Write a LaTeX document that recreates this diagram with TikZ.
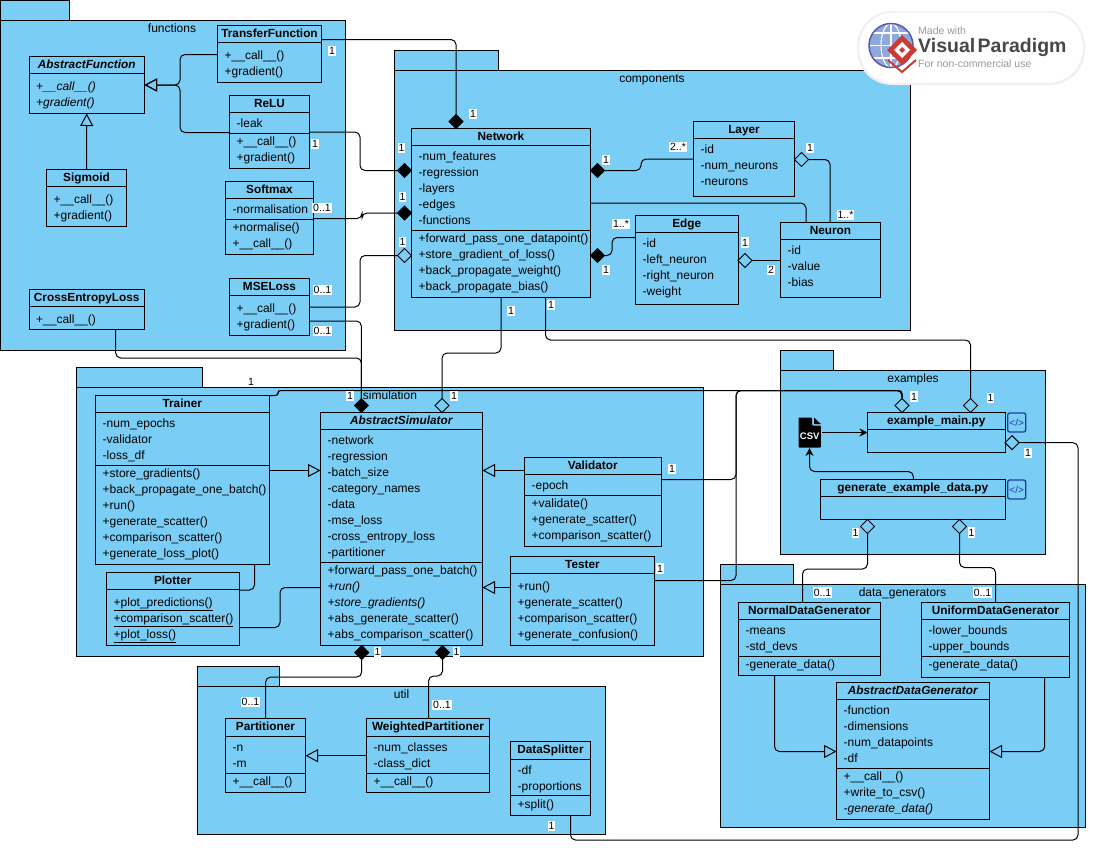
\documentclass[tikz,border=0pt]{standalone}
\usepackage{fontspec}
\setmainfont{Liberation Sans}
\usetikzlibrary{arrows.meta,shapes.geometric}

\definecolor{pkgblue}{HTML}{7ACDF5}
\definecolor{iconblue}{HTML}{1B3FA6}
\definecolor{vpred}{HTML}{CC3B33}
\tikzset{
  pkgbox/.style={draw=black,fill=pkgblue,line width=0.9pt,inner sep=0pt,outer sep=0pt},
  classbox/.style={draw=black,fill=pkgblue,line width=1pt,inner sep=0pt,outer sep=0pt},
  classtitle/.style={font=\fontsize{11.8}{12}\selectfont\bfseries,inner sep=0pt,text height=9pt,text depth=3pt},
  member/.style={font=\fontsize{12}{12}\selectfont,anchor=west,inner sep=0pt,text height=9pt,text depth=3pt},
  pkglabel/.style={font=\fontsize{12}{12}\selectfont,inner sep=0pt,text height=9pt,text depth=3pt},
  mult/.style={font=\fontsize{10.5}{10.5}\selectfont,fill=white,inner xsep=1pt,inner ysep=1.5pt},
  link/.style={line width=1pt,rounded corners=5pt},
  inherit/.style={link,-{Triangle[open,length=12.5pt,width=13pt,line width=1pt]}},
  comp/.style={diamond,draw=black,fill=black,line width=0.8pt,minimum width=14pt,minimum height=14pt,inner sep=0pt,outer sep=0pt},
  aggr/.style={diamond,draw=black,fill=pkgblue,line width=1pt,minimum width=14pt,minimum height=14pt,inner sep=0pt,outer sep=0pt},
  codeicon/.style={draw=iconblue,fill=pkgblue,line width=1.3pt,rounded corners=2pt,minimum width=18pt,minimum height=19pt,inner sep=0pt,text=iconblue,font=\fontsize{10}{10}\selectfont},
  badgetext/.style={font=\fontsize{10.5}{10.5}\selectfont,text=gray!80,anchor=west,inner sep=0pt}
}
% name, left, top, right, bottom, title, y of the compartment lines
\newcommand{\umlclass}[7]{
  \node[classbox,minimum width={(#4-#2)*1pt},minimum height={(#5-#3)*1pt}] (#1) at ({(#2+#4)/2},{(#3+#5)/2}) {};
  \node[classtitle] (#1-title) at ({(#2+#4)/2},{#3+8.5}) {#6};
  \foreach \y in {#7} \draw[line width=1pt] (#1.west |- 0,\y) -- (#1.east |- 0,\y);
  \coordinate (#1-nw) at (#2,#3);
}
% name, y of the first line, lines
\newcommand{\umlmembers}[3]{
  \foreach \txt [count=\i] in {#3} \node[member] (#1-#2-\i) at ([xshift=7pt]#1-nw |- 0,{#2+16*(\i-1)+0.7}) {\txt};
}
% name, left, tab top, tab right, body top, right, bottom, label, label x
\newcommand{\umlpackage}[9]{
  \node[pkgbox,minimum width={(#4-#2)*1pt},minimum height={(#5-#3)*1pt}] (#1-tab) at ({(#2+#4)/2},{(#3+#5)/2}) {};
  \node[pkgbox,minimum width={(#6-#2)*1pt},minimum height={(#7-#5)*1pt}] (#1) at ({(#2+#6)/2},{(#5+#7)/2}) {};
  \node[pkglabel] (#1-label) at (#9,{#5+9}) {#8};
}

\begin{document}
\begin{tikzpicture}[x=1pt,y=-1pt]
\useasboundingbox (0,0) rectangle (1093,855);

\umlpackage{functions}{0.5}{0.5}{69}{20.5}{345}{350}{functions}{172}
\umlpackage{components}{394.5}{50.5}{498}{70.5}{910.5}{330}{components}{652}
\umlpackage{simulation}{76.5}{367.5}{202}{387.5}{703.5}{656}{simulation}{390}
\umlpackage{examples}{780.5}{350.5}{833.5}{370.5}{1045.5}{554}{examples}{913}
\umlpackage{generators}{720.5}{564.5}{793.5}{584.5}{1085.3}{827.3}{data\_generators}{902.5}
\umlpackage{util}{197.5}{666.7}{279.3}{686.7}{605.3}{834.7}{util}{401.5}

% functions
\umlclass{absfunc}{29}{56.5}{144.5}{113.5}{\textit{AbstractFunction}}{73.5}
\umlmembers{absfunc}{87}{\textit{+\_\_call\_\_()},\textit{+gradient()}}
\umlclass{transfer}{217.5}{25.5}{321.5}{82.5}{TransferFunction}{42.5}
\umlmembers{transfer}{56}{+\_\_call\_\_(),+gradient()}
\umlclass{relu}{229.5}{95.5}{309.5}{168.5}{ReLU}{112.5,133.5}
\umlmembers{relu}{124}{-leak}
\umlmembers{relu}{142}{+\_\_call\_\_(),+gradient()}
\umlclass{sigmoid}{46.5}{169.5}{126.5}{226.5}{Sigmoid}{186.5}
\umlmembers{sigmoid}{200}{+\_\_call\_\_(),+gradient()}
\umlclass{softmax}{225.5}{181.5}{313.5}{254.5}{Softmax}{198.5,219.5}
\umlmembers{softmax}{210}{-normalisation}
\umlmembers{softmax}{228}{+normalise(),+\_\_call\_\_()}
\umlclass{celoss}{29}{289.5}{144.5}{329.5}{CrossEntropyLoss}{306.5}
\umlmembers{celoss}{320}{+\_\_call\_\_()}
\umlclass{mseloss}{229.5}{278.5}{309.5}{335.5}{MSELoss}{295.5}
\umlmembers{mseloss}{309}{+\_\_call\_\_(),+gradient()}

% components
\umlclass{network}{411.5}{128.5}{590.5}{297.5}{Network}{145.5,230.5}
\umlmembers{network}{157}{-num\_features,-regression,-layers,-edges,-functions}
\umlmembers{network}{239}{+forward\_pass\_one\_datapoint(),+store\_gradient\_of\_loss(),+back\_propagate\_weight(),+back\_propagate\_bias()}
\umlclass{layer}{693.5}{121.5}{794.5}{196.5}{Layer}{138.5}
\umlmembers{layer}{150}{-id,-num\_neurons,-neurons}
\umlclass{edge}{635.5}{215.5}{738}{304.5}{Edge}{232.5}
\umlmembers{edge}{244}{-id,-left\_neuron,-right\_neuron,-weight}
\umlclass{neuron}{780.5}{222.5}{880.5}{297.5}{Neuron}{239.5}
\umlmembers{neuron}{251}{-id,-value,-bias}

% simulation
\umlclass{trainer}{95.5}{395.5}{269}{564.5}{Trainer}{412.5,465.5}
\umlmembers{trainer}{424}{-num\_epochs,-validator,-loss\_df}
\umlmembers{trainer}{474}{+store\_gradients(),+back\_propagate\_one\_batch(),+run(),+generate\_scatter(),+comparison\_scatter(),+generate\_loss\_plot()}
\umlclass{plotter}{106.5}{572.5}{239}{645.5}{Plotter}{589.5}
\umlmembers{plotter}{603}{\underline{+plot\_predictions()},\underline{+comparison\_scatter()},\underline{+plot\_loss()}}
\umlclass{abssim}{320.5}{412.5}{482.5}{645.5}{\textit{AbstractSimulator}}{429.5,562.5}
\umlmembers{abssim}{441}{-network,-regression,-batch\_size,-category\_names,-data,-mse\_loss,-cross\_entropy\_loss,-partitioner}
\umlmembers{abssim}{571}{+forward\_pass\_one\_batch(),\textit{+run()},\textit{+store\_gradients()},+abs\_generate\_scatter(),+abs\_comparison\_scatter()}
\umlclass{validator}{524.5}{457.5}{661}{546.5}{Validator}{474.5,495.5}
\umlmembers{validator}{486}{-epoch}
\umlmembers{validator}{504}{+validate(),+generate\_scatter(),+comparison\_scatter()}
\umlclass{tester}{510.5}{556.5}{654.5}{645.5}{Tester}{573.5}
\umlmembers{tester}{587}{+run(),+generate\_scatter(),+comparison\_scatter(),+generate\_confusion()}

% examples
\umlclass{mainpy}{867.5}{412.5}{1005}{452.5}{example\_main.py}{429.5}
\umlclass{genpy}{820.5}{479.5}{1005}{519.5}{generate\_example\_data.py}{496.5}
\node[codeicon] (codemain) at (1016.7,422.5) {</>};
\node[codeicon] (codegen) at (1016.7,489.5) {</>};
\fill[black,rounded corners=0.8pt] (798.5,417.5) -- (812,417.5) -- (812,425.5) -- (820.8,425.5) -- (820.8,447.5) -- (798.5,447.5) -- cycle;
\fill[black] (814,417.5) -- (820.8,424) -- (814,424) -- cycle;
\node[minimum width=24pt,minimum height=31pt,inner sep=0pt,outer sep=0pt] (csvfile) at (810,432.5) {};
\node[font=\fontsize{9.5}{9.5}\selectfont\bfseries,text=white,inner sep=0pt] (csvtext) at (809.7,436.5) {CSV};

% data generators
\umlclass{normalgen}{738.5}{602.5}{880.5}{675.5}{NormalDataGenerator}{619.5,656.5}
\umlmembers{normalgen}{631}{-means,-std\_devs}
\umlmembers{normalgen}{665}{-generate\_data()}
\umlclass{uniformgen}{921.5}{602.5}{1069.5}{677.5}{UniformDataGenerator}{619.5,656.5}
\umlmembers{uniformgen}{631}{-lower\_bounds,-upper\_bounds}
\umlmembers{uniformgen}{665}{-generate\_data()}
\umlclass{absgen}{836.5}{682.5}{989.5}{819.5}{\textit{AbstractDataGenerator}}{699.5,768.5}
\umlmembers{absgen}{711}{-function,-dimensions,-num\_datapoints,-df}
\umlmembers{absgen}{777}{+\_\_call\_\_(),+write\_to\_csv(),\textit{-generate\_data()}}

% util
\umlclass{partitioner}{225.5}{718.5}{305.5}{792}{Partitioner}{736,773}
\umlmembers{partitioner}{748}{-n,-m}
\umlmembers{partitioner}{782}{+\_\_call\_\_()}
\umlclass{weighted}{366.5}{718.5}{489.5}{792}{WeightedPartitioner}{736,773}
\umlmembers{weighted}{748}{-num\_classes,-class\_dict}
\umlmembers{weighted}{782}{+\_\_call\_\_()}
\umlclass{splitter}{510.5}{741.5}{590.5}{815}{DataSplitter}{759,795.5}
\umlmembers{splitter}{771}{-df,-proportions}
\umlmembers{splitter}{805}{+split()}

% diamonds
\node[comp] (mtransfer) at (456,121.5) {};
\node[comp] (mrelu) at (404.5,170.5) {};
\node[comp] (msoftmax) at (404.5,213) {};
\node[aggr] (mmse) at (404.5,255.5) {};
\node[comp] (mlayer) at (597.5,170.5) {};
\node[comp] (medge) at (597.5,255.5) {};
\node[aggr] (mneuron) at (801.5,159.5) {};
\node[aggr] (mlink) at (745,260.5) {};
\node[comp] (msimmse) at (361.4,405.5) {};
\node[aggr] (msimnet) at (442,405.5) {};
\node[comp] (mpart) at (361.7,652.5) {};
\node[comp] (mweight) at (442.5,652.5) {};
\node[aggr] (mtrainer) at (902,405.5) {};
\node[aggr] (mnet) at (970.5,405.5) {};
\node[aggr] (msplit) at (1012,442.7) {};
\node[aggr] (mnormal) at (867.5,526.5) {};
\node[aggr] (muniform) at (959.5,526.5) {};

\draw[inherit] (transfer.west |- 0,54.5) -- (180,54.5) -- (180,85) -- (absfunc.east |- 0,85);
\draw[inherit] (relu.west |- 0,132.5) -- (180,132.5) -- (180,85) -- (absfunc.east |- 0,85);
\draw[inherit] (sigmoid.north) -- (absfunc.south);
\draw[link] (transfer.east |- 0,39.5) -- (456,39.5) -- (mtransfer.north);
\draw[link] (relu.east |- 0,132) -- (360,132) -- (360,170.5) -- (mrelu.west);
\draw[link] (softmax.east |- 0,218.5) -- (362,218.5) -- (362,213) -- (msoftmax.west);
\draw[link] (mseloss.east |- 0,307) -- (360,307) -- (360,255.5) -- (mmse.west);
\draw[link] (mseloss.east |- 0,321) -- (361.4,321) -- (msimmse.north);
\draw[link] (celoss.south -| 115.7,0) -- (115.7,358) -- (361.4,358) -- (msimmse.north);
\draw[link] (mlayer.east) -- (641,170.5) -- (641,159) -- (layer.west |- 0,159);
\draw[link] (medge.east) -- (612,255.5) -- (612,237.5) -- (edge.west |- 0,237.5);
\draw[link] (mneuron.east) -- (830,159.5) -- (neuron.north -| 830,0);
\draw[link] (network.east |- 0,203) -- (806,203) -- (neuron.north -| 806,0);
\draw[link] (mlink.east) -- (neuron.west |- 0,260.5);
\draw[link] (network.south -| 501,0) -- (501,353) -- (442,353) -- (msimnet.north);
\draw[link] (network.south -| 545.5,0) -- (545.5,340) -- (970.5,340) -- (mnet.north);
\draw[inherit] (trainer.east |- 0,470.5) -- (abssim.west |- 0,470.5);
\draw[inherit] (validator.west |- 0,470.5) -- (abssim.east |- 0,470.5);
\draw[inherit] (tester.west |- 0,587.5) -- (abssim.east |- 0,587.5);
\draw[link] (trainer.south -| 254.5,0) -- (254.5,590) -- (plotter.east |- 0,590);
\draw[link] (plotter.east |- 0,627.5) -- (280,627.5) -- (280,587.5) -- (abssim.west |- 0,587.5);
\draw[link,rounded corners=3pt] (trainer.east |- 0,395.5) -- (278,395.5) -- (278,390.5) -- (902,390.5) -- (mtrainer.north);
\draw[link] (validator.east |- 0,479.5) -- (736,479.5) -- (736,390.5) -- (902,390.5) -- (mtrainer.north);
\draw[link] (tester.east |- 0,580.5) -- (736,580.5) -- (736,390.5) -- (902,390.5) -- (mtrainer.north);
\draw[link,-{Stealth[length=8pt,width=8pt]}] (csvfile.east |- 0,432.5) -- (mainpy.west |- 0,432.5);
\draw[link,-{Stealth[length=8pt,width=8pt]}] (genpy.north -| 913.3,0) -- (913.3,471.5) -- (809.5,471.5) -- (csvfile.south -| 809.5,0);
\draw[link] (msplit.east) -- (1078,442.7) -- (1078,840) -- (570.5,840) -- (splitter.south -| 570.5,0);
\draw[link] (mnormal.south) -- (867.5,569) -- (802.5,569) -- (normalgen.north -| 802.5,0);
\draw[link] (muniform.south) -- (959.5,567.5) -- (995.5,567.5) -- (uniformgen.north -| 995.5,0);
\draw[inherit] (normalgen.south -| 774.5,0) -- (774.5,751.5) -- (absgen.west |- 0,751.5);
\draw[inherit] (uniformgen.south -| 1044.7,0) -- (1044.7,751.5) -- (absgen.east |- 0,751.5);
\draw[inherit] (weighted.west |- 0,755.7) -- (partitioner.east |- 0,755.7);
\draw[link] (mpart.south) -- (361.7,677) -- (265.7,677) -- (partitioner.north -| 265.7,0);
\draw[link] (mweight.south) -- (442.5,676) -- (428.5,676) -- (weighted.north -| 428.5,0);

\foreach \x/\y/\lab [count=\i] in {332/51/1,315/144/1,322/208/0..1,322.5/290/0..1,322.5/331/0..1,
  401.5/148/1,402.5/197/1,402.5/242/1,473/114/1,606/160/1,678/147/2..*,810/148/1,845.5/215/1..*,
  621/224/1..*,606/270/1,745/242.5/1,771/270/2,511/311/1,551/305/1,
  251/382/1,350/396/1,454/396/1,672/469/1,660/568.5/1,377.5/652/1,456.5/652/1,
  914/396.5/1,990.5/398/1,1028/453/1,855.5/533/1,971.5/532.5/1,822.5/592.5/0..1,982.5/592.5/0..1,
  250.5/702/0..1,442/705/0..1,551.5/826/1}
  \node[mult] (mult\i) at (\x,\y) {\lab};

% badge
\fill[gray!12,rounded corners=35pt] (857,11) rectangle (1085,85);
\fill[white,rounded corners=35pt] (859,12.5) rectangle (1083,83);
\fill[cyan!45!blue!45] (891,45.5) circle (22);
\draw[white,line width=1.1pt] (869,45.5) -- (913,45.5) (891,23.5) -- (891,67.5) (873,33) -- (909,33) (873,58) -- (909,58);
\draw[white,line width=1.1pt] (891,45.5) ellipse (10 and 22);
\draw[gray!70!blue,line width=1.5pt] (891,45.5) circle (22);
\fill[vpred] (902,35) -- (917,50) -- (902,65) -- (887,50) -- cycle;
\fill[white] (902,42) -- (910,50) -- (902,58) -- (894,50) -- cycle;
\fill[vpred] (902,47) -- (905,50) -- (902,53) -- (899,50) -- cycle;
\draw[vpred,line width=2pt] (888,60) -- (902,72) -- (916,60);
\node[badgetext] (madewith) at (918,31) {Made with};
\node[badgetext,font=\fontsize{19.5}{19.5}\selectfont\bfseries,text=black!72] (vpname) at (918,47) {Visual\kern-3pt\ Paradigm};
\node[badgetext] (noncommercial) at (918,64) {For non-commercial use};
\end{tikzpicture}
\end{document}
